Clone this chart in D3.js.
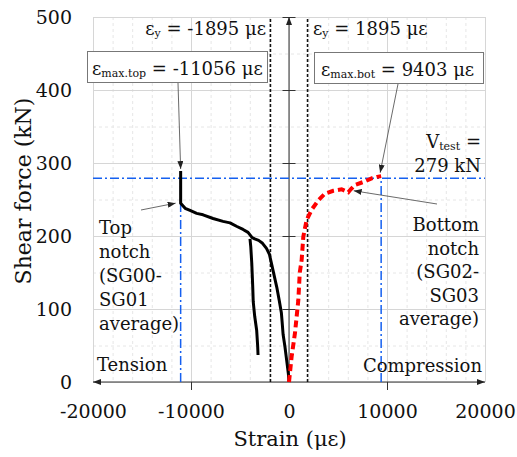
<!DOCTYPE html>
<html>
<head>
<meta charset="utf-8">
<script src="https://cdn.jsdelivr.net/npm/d3@7"></script>
<style>
  body { margin: 0; background: #fff; }
  svg text { font-family: "DejaVu Serif", "DejaVu Sans", serif !important; }
</style>
</head>
<body>
<div id="plot"></div>
<script>
// Axis ticks
const xTicks = [-20000, -10000, 0, 10000, 20000];
const yTicks = [0, 100, 200, 300, 400, 500];

// Reference values
const yieldStrain = 1895;
const vTest = 279;
const epsMaxTop = -11056;
const epsMaxBot = 9403;

// Top notch (SG00-SG01 average), [strain, shear]
const topNotch = [
  [0, 0], [-70, 12], [-240, 30], [-410, 48], [-600, 65], [-700, 82], [-780, 95],
  [-1000, 112], [-1250, 130], [-1450, 142], [-1750, 160], [-2000, 175], [-2300, 183],
  [-2700, 190], [-3100, 194], [-3500, 196], [-3780, 198], [-4180, 205], [-4690, 209],
  [-5310, 213], [-6020, 218], [-6730, 220], [-7750, 224], [-8770, 229], [-9420, 231],
  [-10100, 235], [-10600, 238], [-11056, 245], [-11056, 289]
];
const topNotchBranch = [
  [-3980, 196], [-3900, 185], [-3800, 163], [-3700, 130], [-3650, 110],
  [-3500, 90], [-3300, 71], [-3200, 50], [-3160, 37]
];

// Bottom notch (SG02-SG03 average), [strain, shear]
const bottomNotch = [
  [0, 0], [270, 35], [610, 67], [950, 112], [1100, 150], [1290, 167], [1460, 199],
  [1800, 222], [2310, 236], [3000, 249], [3670, 258], [4520, 262], [5370, 264],
  [6050, 260], [6300, 264], [6730, 270], [7590, 274], [8430, 279], [9000, 281], [9403, 282]
];

const W = 517, H = 457;
const margin = { top: 17, right: 32, bottom: 75, left: 93 };
const width = W - margin.left - margin.right;
const height = H - margin.top - margin.bottom;

const svg = d3.select('#plot').append('svg').attr('width', W).attr('height', H);

const defs = svg.append('defs');
defs.append('marker').attr('id', 'arr').attr('viewBox', '0 0 8 6').attr('refX', 8).attr('refY', 3)
  .attr('markerWidth', 8).attr('markerHeight', 6).attr('markerUnits', 'userSpaceOnUse').attr('orient', 'auto')
  .append('path').attr('d', 'M0,0L8,3L0,6Z').attr('fill', '#222');
defs.append('marker').attr('id', 'arrStart').attr('viewBox', '0 0 8 6').attr('refX', 0).attr('refY', 3)
  .attr('markerWidth', 8).attr('markerHeight', 6).attr('markerUnits', 'userSpaceOnUse').attr('orient', 'auto')
  .append('path').attr('d', 'M8,0L0,3L8,6Z').attr('fill', '#222');

const g = svg.append('g').attr('transform', `translate(${margin.left},${margin.top})`);

const x = d3.scaleLinear().domain([-20000, 20000]).range([0, width]);
const y = d3.scaleLinear().domain([0, 500]).range([height, 0]);

// minor grid
const minorX = d3.range(-18000, 20000, 2000).filter(d => d % 10000 !== 0);
const minorY = d3.range(50, 500, 100);
g.append('g').call(d3.axisBottom(x).tickValues(minorX).tickSize(height).tickFormat(''))
  .call(s => s.select('.domain').remove())
  .selectAll('line').attr('stroke', '#e6e6e6').attr('stroke-dasharray', '3,3');
g.append('g').call(d3.axisLeft(y).tickValues(minorY).tickSize(-width).tickFormat(''))
  .call(s => s.select('.domain').remove())
  .selectAll('line').attr('stroke', '#e6e6e6').attr('stroke-dasharray', '3,3');

// major grid
g.append('g').call(d3.axisBottom(x).tickValues(xTicks).tickSize(height).tickFormat(''))
  .call(s => s.select('.domain').remove())
  .selectAll('line').attr('stroke', '#d6d6d6');
g.append('g').call(d3.axisLeft(y).tickValues(yTicks).tickSize(-width).tickFormat(''))
  .call(s => s.select('.domain').remove())
  .selectAll('line').attr('stroke', '#d6d6d6');

// tick labels
g.append('g').attr('transform', `translate(0,${height})`)
  .call(d3.axisBottom(x).tickValues(xTicks).tickSize(0).tickPadding(23).tickFormat(d => String(d)))
  .call(s => s.select('.domain').remove())
  .selectAll('text').style('font-size', '19px').attr('fill', '#111');
g.append('g')
  .call(d3.axisLeft(y).tickValues(yTicks).tickSize(0).tickPadding(21).tickFormat(d => String(d)))
  .call(s => s.select('.domain').remove())
  .selectAll('text').style('font-size', '19px').attr('fill', '#111');

// tick marks on the axes through the origin
g.append('g').attr('transform', `translate(0,${height})`)
  .call(d3.axisBottom(x).tickValues([-10000, 10000]).tickSize(8).tickFormat(''))
  .call(s => s.select('.domain').remove())
  .selectAll('line').attr('stroke', '#333');
g.append('g').attr('transform', `translate(${x(0) - 6.5},0)`)
  .call(d3.axisRight(y).tickValues([100, 200, 300, 400, 500]).tickSize(13).tickFormat(''))
  .call(s => s.select('.domain').remove())
  .selectAll('line').attr('stroke', '#333');

// axis lines with arrows
g.append('line').attr('x1', x(-20000)).attr('x2', x(20000)).attr('y1', y(0)).attr('y2', y(0))
  .attr('stroke', '#333').attr('stroke-width', 1)
  .attr('marker-start', 'url(#arrStart)').attr('marker-end', 'url(#arr)');
g.append('line').attr('x1', x(0)).attr('x2', x(0)).attr('y1', y(0)).attr('y2', y(500))
  .attr('stroke', '#333').attr('stroke-width', 1).attr('marker-end', 'url(#arr)');

// yield strain lines
[-yieldStrain, yieldStrain].forEach(v => {
  g.append('line').attr('x1', x(v)).attr('x2', x(v)).attr('y1', y(0)).attr('y2', y(500))
    .attr('stroke', '#111').attr('stroke-width', 1.6).attr('stroke-dasharray', '3,2');
});

// V test and max strain lines
const blue = '#1560f0';
g.append('line').attr('x1', x(-20000)).attr('x2', x(20000)).attr('y1', y(vTest)).attr('y2', y(vTest))
  .attr('stroke', blue).attr('stroke-width', 1.5).attr('stroke-dasharray', '9,3,2,3');
[epsMaxTop, epsMaxBot].forEach(v => {
  g.append('line').attr('x1', x(v)).attr('x2', x(v)).attr('y1', y(0)).attr('y2', y(vTest))
    .attr('stroke', blue).attr('stroke-width', 1.5).attr('stroke-dasharray', '9,3,2,3');
});

// curves
const line = d3.line().x(d => x(d[0])).y(d => y(d[1]));
[topNotch, topNotchBranch].forEach(data => {
  g.append('path').datum(data).attr('d', line).attr('fill', 'none')
    .attr('stroke', '#000').attr('stroke-width', 3).attr('stroke-linejoin', 'round');
});
g.append('path').datum(bottomNotch).attr('d', line).attr('fill', 'none')
  .attr('stroke', '#ff0000').attr('stroke-width', 4).attr('stroke-dasharray', '7,4');

// text helper with subscripts
function richText(px, py, parts, anchor, size) {
  const t = svg.append('text').attr('x', px).attr('y', py).attr('text-anchor', anchor || 'start')
    .style('font-size', (size || 18) + 'px').attr('fill', '#111');
  parts.forEach(p => {
    if (p.sub) {
      t.append('tspan').text(p.t).style('font-size', '11px').attr('dy', 2);
    } else {
      t.append('tspan').text(p.t).attr('dy', p.after ? -2 : 0);
    }
  });
  return t;
}

// yield labels
richText(266, 35, [{ t: 'ε' }, { t: 'y', sub: true }, { t: ' = -1895 με', after: true }], 'end');
richText(313, 35, [{ t: 'ε' }, { t: 'y', sub: true }, { t: ' = 1895 με', after: true }], 'start');

// boxes
svg.append('rect').attr('x', 87.5).attr('y', 51.5).attr('width', 180).attr('height', 31)
  .attr('fill', '#fff').attr('stroke', '#777');
richText(92, 75, [{ t: 'ε' }, { t: 'max.top', sub: true }, { t: ' = -11056 με', after: true }], 'start');
svg.append('rect').attr('x', 314.5).attr('y', 52.5).attr('width', 169).attr('height', 31)
  .attr('fill', '#fff').attr('stroke', '#777');
richText(321, 76, [{ t: 'ε' }, { t: 'max.bot', sub: true }, { t: ' = 9403 με', after: true }], 'start');

// leader arrows
const mx = margin.left, my = margin.top;
svg.append('line').attr('x1', 178).attr('y1', 83).attr('x2', mx + x(epsMaxTop)).attr('y2', my + y(289) - 2)
  .attr('stroke', '#444').attr('stroke-width', 0.8).attr('marker-end', 'url(#arr)');
svg.append('line').attr('x1', 398).attr('y1', 84).attr('x2', mx + x(epsMaxBot) - 1).attr('y2', my + y(284) - 2)
  .attr('stroke', '#444').attr('stroke-width', 0.8).attr('marker-end', 'url(#arr)');
svg.append('line').attr('x1', 141).attr('y1', 210).attr('x2', mx + x(epsMaxTop) - 5).attr('y2', my + y(245))
  .attr('stroke', '#444').attr('stroke-width', 0.8).attr('marker-end', 'url(#arr)');
svg.append('line').attr('x1', 437).attr('y1', 204).attr('x2', mx + x(6600)).attr('y2', my + y(262))
  .attr('stroke', '#444').attr('stroke-width', 0.8).attr('marker-end', 'url(#arr)');

// Vtest label
richText(481, 148, [{ t: 'V' }, { t: 'test', sub: true }, { t: ' =', after: true }], 'end');
richText(481, 172, [{ t: '279 kN' }], 'end');

// notch labels
['Top', 'notch', '(SG00-', 'SG01', 'average)'].forEach((s, i) => {
  richText(99, 234 + i * 24, [{ t: s }], 'start');
});
['Bottom', 'notch', '(SG02-', 'SG03', 'average)'].forEach((s, i) => {
  richText(479, 231 + i * 23.5, [{ t: s }], 'end');
});
richText(97, 371, [{ t: 'Tension' }], 'start');
richText(482, 372, [{ t: 'Compression' }], 'end');

// axis titles
svg.append('text').attr('transform', `translate(31,191) rotate(-90)`)
  .attr('text-anchor', 'middle').style('font-size', '22px').attr('fill', '#111').text('Shear force (kN)');
svg.append('text').attr('x', 290).attr('y', 446)
  .attr('text-anchor', 'middle').style('font-size', '21px').attr('fill', '#111').text('Strain (με)');
</script>
</body>
</html>
